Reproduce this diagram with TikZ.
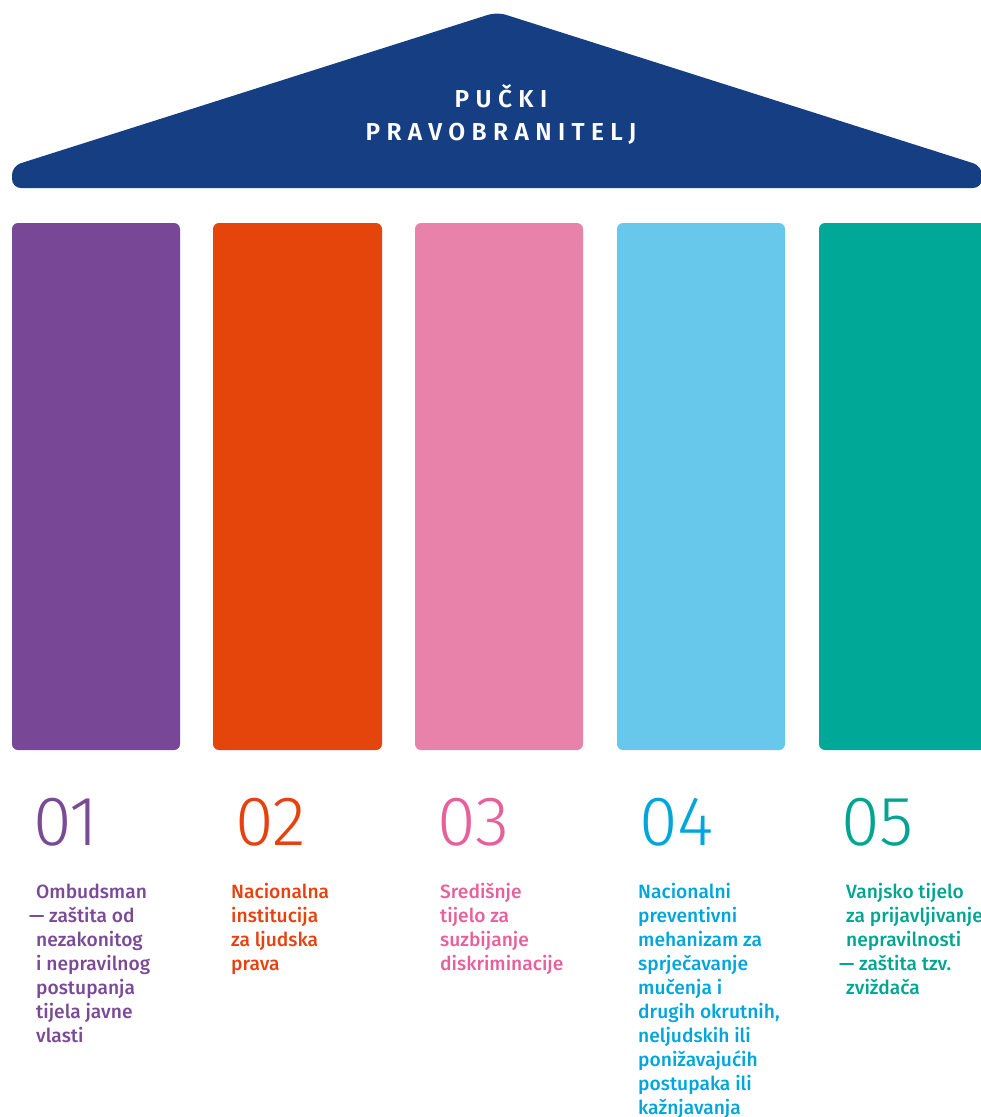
\documentclass[tikz,border=0pt]{standalone}
\usepackage{fontspec}
\setmainfont{Fira Sans}
\newfontfamily\numfont{Fira Sans Light}
\newfontfamily\bodyfont{Fira Sans Medium}
\newfontfamily\rooffont[LetterSpace=26]{Fira Sans SemiBold}
\definecolor{roofblue}{HTML}{163E83}
\definecolor{cpurple}{HTML}{784795}
\definecolor{corange}{HTML}{E5450A}
\definecolor{cpink}{HTML}{E982AB}
\definecolor{cblue}{HTML}{67C8EB}
\definecolor{cteal}{HTML}{00A897}
\definecolor{tpurple}{HTML}{7A4A97}
\definecolor{torange}{HTML}{E5420F}
\definecolor{tpink}{HTML}{E8609A}
\definecolor{tblue}{HTML}{00A5DB}
\definecolor{tteal}{HTML}{00A591}
\tikzset{
  pillar/.style={rounded corners=6pt},
  numlabel/.style={anchor=base west, inner sep=0pt, font=\numfont\fontsize{70}{70}\selectfont},
  desc/.style={anchor=north west, inner sep=0pt, align=left, font=\bodyfont\fontsize{19.2}{24}\selectfont},
  rooftext/.style={text=white, font=\rooffont\fontsize{24.5}{24.5}\selectfont, inner sep=0pt}
}
\begin{document}
\begin{tikzpicture}[x=1pt,y=-1pt]
\useasboundingbox (0,0) rectangle (981,1117);
\clip (0,0) rectangle (981,1117);
% roof
\fill[roofblue, rounded corners=9pt] (12,188) -- (12,166) -- (497,12) -- (982,166) -- (982,188) -- cycle;
\node[rooftext] (t1) at (501,96) {PUČKI};
\node[rooftext] (t2) at (501,134) {PRAVOBRANITELJ};
% pillars
\fill[cpurple, pillar] (12,223) rectangle (180,750);
\fill[corange, pillar] (213,223) rectangle (382,750);
\fill[cpink, pillar] (415,223) rectangle (583,750);
\fill[cblue, pillar] (617,223) rectangle (785,750);
\fill[cteal, pillar] (819,223) rectangle (995,750);
% numbers
\node[numlabel, text=tpurple] (n1) at (33,845) {01};
\node[numlabel, text=torange] (n2) at (235,845) {02};
\node[numlabel, text=tpink] (n3) at (437,845) {03};
\node[numlabel, text=tblue] (n4) at (639,845) {04};
\node[numlabel, text=tteal] (n5) at (841,845) {05};
% descriptions
\node[desc, text=tpurple] (d1) at (36,881) {\strut Ombudsman\\\hspace*{-7pt}— zaštita od\\nezakonitog\\i nepravilnog\\postupanja\\tijela javne\\vlasti};
\node[desc, text=torange] (d2) at (231,881) {\strut Nacionalna\\institucija\\za ljudska\\prava};
\node[desc, text=tpink] (d3) at (440,881) {\strut Središnje\\tijelo za\\suzbijanje\\diskriminacije};
\node[desc, text=tblue] (d4) at (638,881) {\strut Nacionalni\\preventivni\\mehanizam za\\sprječavanje\\mučenja i\\drugih okrutnih,\\neljudskih ili\\ponižavajućih\\postupaka ili\\kažnjavanja};
\node[desc, text=tteal] (d5) at (846,881) {\strut Vanjsko tijelo\\za prijavljivanje\\nepravilnosti\\\hspace*{-7pt}— zaštita tzv.\\zviždača};
\end{tikzpicture}
\end{document}
